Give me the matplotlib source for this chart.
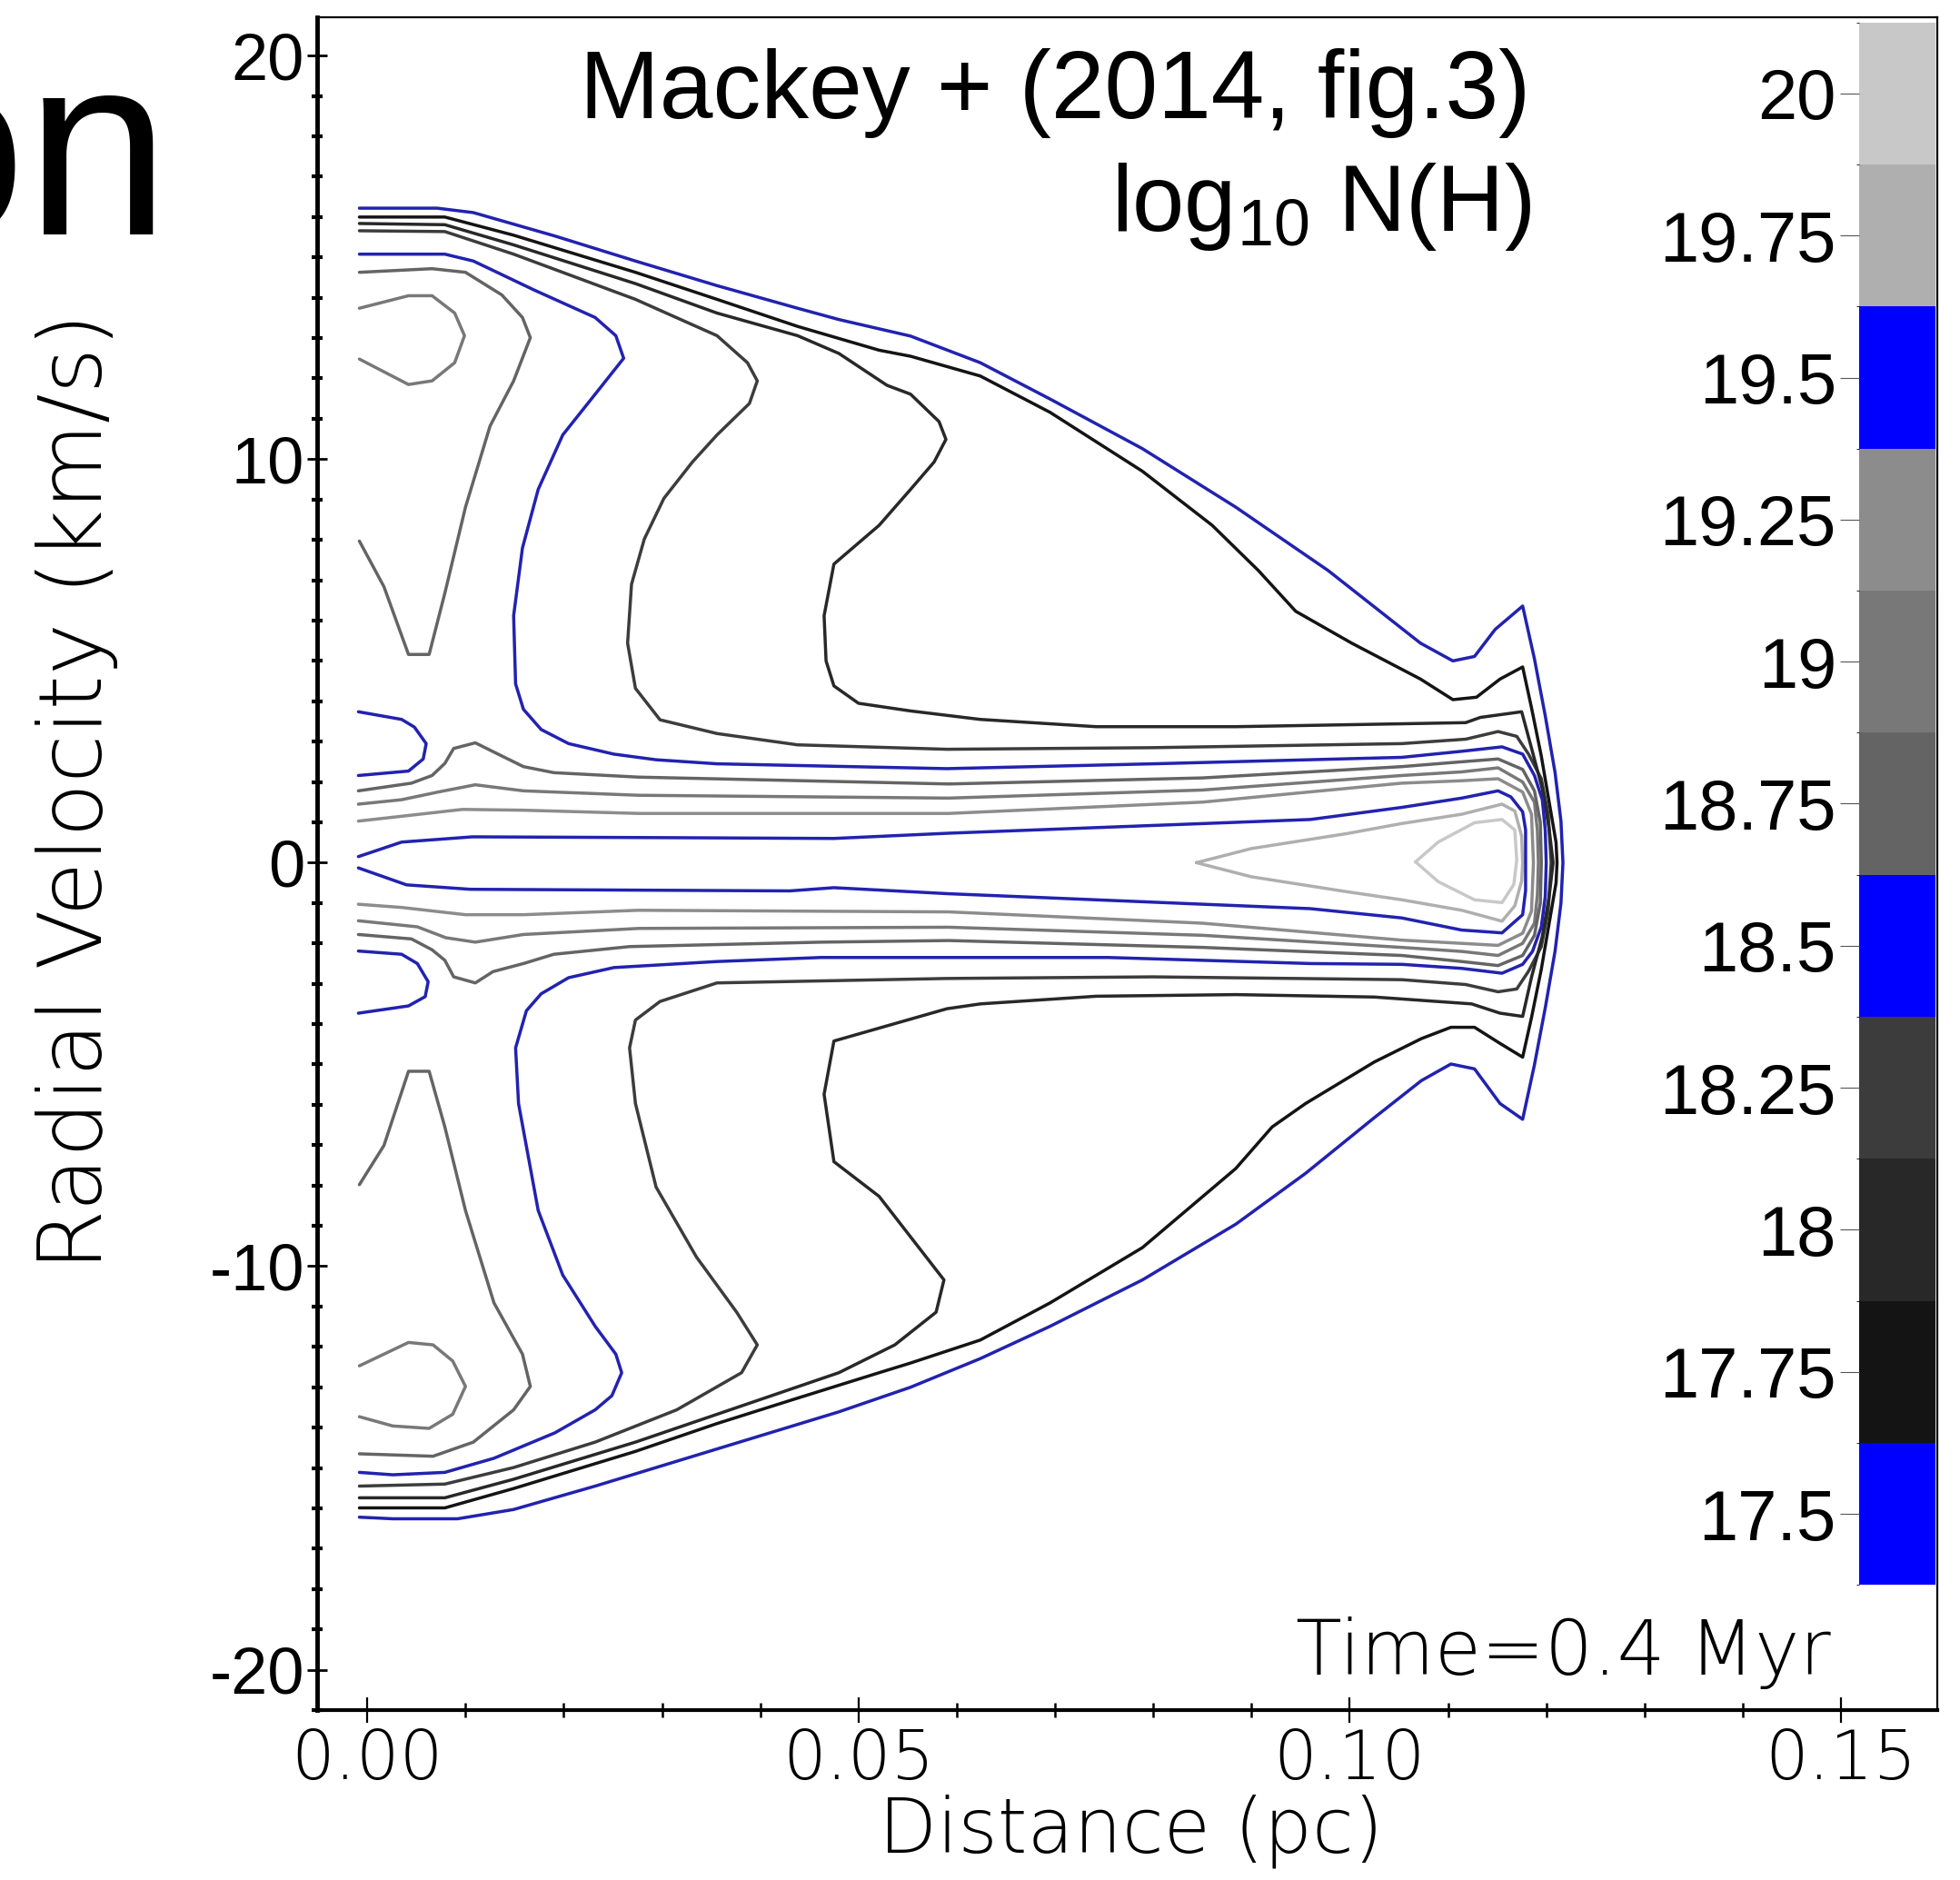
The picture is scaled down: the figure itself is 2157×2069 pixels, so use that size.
import numpy as np
import matplotlib
matplotlib.use("Agg")
import matplotlib.pyplot as plt
from matplotlib.colors import ListedColormap, BoundaryNorm
from matplotlib.cm import ScalarMappable
from matplotlib.ticker import MultipleLocator, FormatStrFormatter, FuncFormatter

plt.rcParams["axes.unicode_minus"] = False
plt.rcParams["mathtext.default"] = "regular"

# log10 N(H) contour levels and their colours
levels = [17.5, 17.75, 18.0, 18.25, 18.5, 18.75, 19.0, 19.25, 19.5, 19.75, 20.0]
level_colors = ["#0000ff", "#141414", "#282828", "#3c3c3c", "#0000ff", "#646464",
                "#787878", "#8c8c8c", "#0000ff", "#afafaf", "#c8c8c8"]
cbar_labels = ["17.5", "17.75", "18", "18.25", "18.5", "18.75", "19", "19.25", "19.5", "19.75", "20"]

# contour paths: (distance [pc], radial velocity [km/s])
c1750_outer = [(-0.0008, 16.22), (0.0071, 16.22), (0.0108, 16.11), (0.0191, 15.53), (0.0273, 14.91),
               (0.0356, 14.30), (0.0438, 13.74), (0.0480, 13.46), (0.0553, 13.05), (0.0624, 12.39),
               (0.0695, 11.49), (0.0789, 10.26), (0.0884, 8.81), (0.0978, 7.24), (0.1025, 6.34),
               (0.1072, 5.44), (0.1105, 5.00), (0.1127, 5.11), (0.1148, 5.78), (0.1176, 6.36),
               (0.1188, 5.05), (0.1199, 3.64), (0.1209, 2.23), (0.1215, 1.03), (0.1217, 0.00),
               (0.1215, -1.00), (0.1209, -2.19), (0.1199, -3.60), (0.1188, -5.01), (0.1176, -6.36),
               (0.1153, -5.97), (0.1127, -5.11), (0.1103, -4.99), (0.1073, -5.40), (0.1025, -6.32),
               (0.0955, -7.70), (0.0884, -8.96), (0.0789, -10.34), (0.0695, -11.49), (0.0624, -12.29),
               (0.0553, -13.00), (0.0480, -13.61), (0.0356, -14.53), (0.0232, -15.45), (0.0149, -16.03),
               (0.0092, -16.26), (0.0026, -16.26), (-0.0008, -16.22)]

c1775_outer = [(-0.0008, 16.00), (0.0079, 16.00), (0.0149, 15.55), (0.0273, 14.63), (0.0356, 13.96),
               (0.0438, 13.29), (0.0521, 12.70), (0.0553, 12.55), (0.0624, 12.06), (0.0695, 11.16),
               (0.0789, 9.70), (0.0860, 8.36), (0.0907, 7.24), (0.0945, 6.23), (0.1002, 5.44),
               (0.1072, 4.55), (0.1105, 4.04), (0.1129, 4.10), (0.1153, 4.55), (0.1176, 4.85),
               (0.1185, 3.84), (0.1195, 2.64), (0.1203, 1.50), (0.1210, 0.50), (0.1211, 0.00),
               (0.1210, -0.50), (0.1203, -1.50), (0.1195, -2.64), (0.1185, -3.84), (0.1176, -4.82),
               (0.1153, -4.48), (0.1127, -4.08), (0.1103, -4.08), (0.1073, -4.36), (0.1025, -4.94),
               (0.0955, -5.97), (0.0921, -6.55), (0.0884, -7.58), (0.0789, -9.54), (0.0695, -10.91),
               (0.0624, -11.83), (0.0553, -12.40), (0.0521, -12.64), (0.0438, -13.27), (0.0356, -13.90),
               (0.0273, -14.59), (0.0149, -15.51), (0.0079, -15.99), (-0.0008, -15.99)]

c1800_outer = [(-0.0008, 15.84), (0.0079, 15.81), (0.0149, 15.31), (0.0273, 14.35), (0.0356, 13.62),
               (0.0438, 13.06), (0.0480, 12.62), (0.0529, 11.83), (0.0553, 11.61), (0.0582, 10.93),
               (0.0589, 10.49), (0.0577, 9.93), (0.0553, 9.25), (0.0521, 8.36), (0.0475, 7.40),
               (0.0465, 6.12), (0.0467, 5.00), (0.0475, 4.38), (0.0500, 3.95), (0.0553, 3.76),
               (0.0624, 3.55), (0.0742, 3.37), (0.0884, 3.37), (0.1025, 3.43), (0.1118, 3.47),
               (0.1133, 3.60), (0.1175, 3.74), (0.1185, 2.84), (0.1196, 1.83), (0.1203, 0.83),
               (0.1207, 0.00), (0.1203, -0.83), (0.1196, -1.83), (0.1185, -2.84), (0.1176, -3.81),
               (0.1153, -3.73), (0.1124, -3.50), (0.1025, -3.33), (0.0884, -3.27), (0.0742, -3.31),
               (0.0624, -3.50), (0.0590, -3.62), (0.0475, -4.42), (0.0465, -5.74), (0.0475, -7.41),
               (0.0521, -8.27), (0.0587, -10.34), (0.0579, -11.14), (0.0537, -11.95), (0.0480, -12.64),
               (0.0397, -13.33), (0.0273, -14.36), (0.0149, -15.28), (0.0079, -15.74), (-0.0008, -15.74)]

c1825_outer = [(-0.0008, 15.66), (0.0079, 15.64), (0.0149, 15.08), (0.0273, 13.96), (0.0356, 13.06),
               (0.0387, 12.39), (0.0397, 11.94), (0.0389, 11.38), (0.0356, 10.60), (0.0331, 9.93),
               (0.0302, 9.03), (0.0282, 8.02), (0.0269, 6.90), (0.0265, 5.44), (0.0273, 4.32),
               (0.0298, 3.54), (0.0356, 3.20), (0.0438, 2.92), (0.0590, 2.81), (0.0800, 2.85),
               (0.1053, 2.95), (0.1118, 3.06), (0.1151, 3.25), (0.1170, 3.13), (0.1182, 2.69),
               (0.1195, 2.08), (0.1202, 1.20), (0.1205, 0.00), (0.1202, -1.20), (0.1195, -2.08),
               (0.1182, -2.69), (0.1170, -3.13), (0.1151, -3.20), (0.1118, -3.02), (0.1053, -2.90),
               (0.0800, -2.83), (0.0590, -2.87), (0.0356, -2.98), (0.0298, -3.44), (0.0273, -3.90),
               (0.0267, -4.59), (0.0273, -5.97), (0.0294, -8.04), (0.0335, -9.77), (0.0376, -11.14),
               (0.0397, -11.95), (0.0381, -12.64), (0.0315, -13.56), (0.0232, -14.36), (0.0149, -14.99),
               (0.0079, -15.40), (-0.0008, -15.45)]

c1850_main = [(-0.0008, 15.08), (0.0079, 15.08), (0.0108, 14.91), (0.0170, 14.19), (0.0232, 13.51),
              (0.0253, 13.06), (0.0261, 12.50), (0.0232, 11.61), (0.0199, 10.60), (0.0174, 9.25),
              (0.0158, 7.80), (0.0149, 6.12), (0.0151, 4.43), (0.0159, 3.80), (0.0177, 3.30),
              (0.0205, 2.95), (0.0251, 2.69), (0.0294, 2.55), (0.0356, 2.45), (0.0590, 2.33),
              (0.0800, 2.45), (0.1053, 2.61), (0.1114, 2.76), (0.1155, 2.87), (0.1176, 2.69),
              (0.1188, 2.16), (0.1196, 1.56), (0.1199, 0.81), (0.1200, 0.00), (0.1199, -0.84),
              (0.1195, -1.59), (0.1186, -2.20), (0.1176, -2.52), (0.1155, -2.74), (0.1114, -2.62),
              (0.1053, -2.52), (0.0960, -2.50), (0.0754, -2.35), (0.0462, -2.35), (0.0356, -2.45),
              (0.0251, -2.60), (0.0205, -2.85), (0.0177, -3.25), (0.0162, -3.67), (0.0151, -4.59),
              (0.0154, -5.97), (0.0174, -8.62), (0.0199, -10.22), (0.0232, -11.49), (0.0253, -12.18),
              (0.0259, -12.64), (0.0249, -13.21), (0.0232, -13.56), (0.0191, -14.13), (0.0129, -14.76),
              (0.0079, -15.11), (0.0026, -15.17), (-0.0008, -15.11)]
c1850_lobe_up = [(-0.0009, 3.74), (0.0035, 3.55), (0.0048, 3.36), (0.0060, 2.95), (0.0057, 2.57),
                 (0.0042, 2.27), (-0.0009, 2.16)]
c1850_lobe_dn = [(-0.0009, -2.19), (0.0035, -2.27), (0.0051, -2.50), (0.0062, -2.95), (0.0059, -3.32),
                 (0.0042, -3.55), (-0.0009, -3.73)]

c1875_v_up = [(-0.0008, 14.63), (0.0066, 14.72), (0.0100, 14.63), (0.0137, 14.07), (0.0158, 13.51),
              (0.0166, 13.01), (0.0149, 11.94), (0.0125, 10.82), (0.0100, 8.81), (0.0079, 6.68),
              (0.0063, 5.16), (0.0042, 5.16), (0.0017, 6.84), (-0.0008, 7.97)]
c1875_v_dn = [(-0.0008, -7.98), (0.0017, -7.01), (0.0042, -5.17), (0.0063, -5.17), (0.0079, -6.55),
              (0.0100, -8.62), (0.0129, -10.91), (0.0158, -12.18), (0.0166, -12.98), (0.0149, -13.56),
              (0.0108, -14.36), (0.0067, -14.71), (-0.0008, -14.65)]
c1875_band = [(-0.0009, 1.78), (0.0045, 1.97), (0.0066, 2.16), (0.0079, 2.46), (0.0088, 2.83),
              (0.0110, 2.97), (0.0134, 2.68), (0.0159, 2.38), (0.0190, 2.23), (0.0276, 2.12),
              (0.0592, 1.95), (0.0850, 2.10), (0.1053, 2.38), (0.1114, 2.50), (0.1151, 2.57),
              (0.1176, 2.31), (0.1188, 1.78), (0.1194, 1.00), (0.1195, 0.00), (0.1194, -1.00),
              (0.1188, -1.80), (0.1176, -2.30), (0.1151, -2.55), (0.1114, -2.45), (0.1053, -2.30),
              (0.0850, -2.10), (0.0592, -1.93), (0.0462, -1.97), (0.0267, -2.08), (0.0190, -2.27),
              (0.0159, -2.50), (0.0128, -2.70), (0.0110, -2.98), (0.0088, -2.83), (0.0079, -2.42),
              (0.0066, -2.16), (0.0045, -1.89), (-0.0009, -1.78)]

c1900_loop_up = [(-0.0008, 13.74), (0.0042, 14.05), (0.0066, 14.05), (0.0089, 13.62), (0.0099, 13.06),
                 (0.0089, 12.39), (0.0066, 11.94), (0.0042, 11.85), (-0.0008, 12.48)]
c1900_loop_dn = [(-0.0008, -12.47), (0.0042, -11.89), (0.0067, -11.95), (0.0087, -12.35), (0.0100, -12.98),
                 (0.0087, -13.67), (0.0063, -14.02), (0.0026, -13.96), (-0.0008, -13.73)]
c1900_band = [(-0.0009, 1.45), (0.0035, 1.56), (0.0072, 1.75), (0.0110, 1.93), (0.0159, 1.78),
              (0.0276, 1.67), (0.0592, 1.60), (0.0850, 1.80), (0.1053, 2.16), (0.1114, 2.25),
              (0.1151, 2.35), (0.1176, 2.00), (0.1188, 1.50), (0.1191, 0.80), (0.1192, 0.00),
              (0.1191, -0.80), (0.1188, -1.50), (0.1176, -2.00), (0.1151, -2.30), (0.1114, -2.20),
              (0.1053, -2.10), (0.0850, -1.80), (0.0592, -1.60), (0.0276, -1.63), (0.0159, -1.78),
              (0.0110, -1.97), (0.0080, -1.86), (0.0051, -1.59), (-0.0009, -1.44)]

c1925_band = [(-0.0009, 1.03), (0.0035, 1.15), (0.0097, 1.32), (0.0159, 1.30), (0.0276, 1.22),
              (0.0592, 1.22), (0.0850, 1.50), (0.1053, 1.97), (0.1114, 2.03), (0.1151, 2.08),
              (0.1176, 1.75), (0.1185, 1.20), (0.1187, 0.00), (0.1185, -1.20), (0.1176, -1.75),
              (0.1151, -2.05), (0.1114, -2.00), (0.1053, -1.92), (0.0850, -1.50), (0.0592, -1.22),
              (0.0276, -1.18), (0.0159, -1.29), (0.0100, -1.29), (0.0035, -1.11), (-0.0009, -1.03)]

c1950_core = [(-0.0009, 0.15), (0.0035, 0.51), (0.0107, 0.64), (0.0300, 0.62), (0.0475, 0.60),
              (0.0592, 0.73), (0.0960, 1.07), (0.1053, 1.37), (0.1114, 1.60), (0.1151, 1.78),
              (0.1164, 1.63), (0.1176, 1.26), (0.1179, 0.81), (0.1179, -0.69), (0.1176, -1.29),
              (0.1155, -1.74), (0.1114, -1.67), (0.1053, -1.37), (0.0960, -1.14), (0.0592, -0.77),
              (0.0475, -0.62), (0.0430, -0.70), (0.0105, -0.66), (0.0040, -0.55), (-0.0009, -0.13)]

c1975_loop = [(0.0844, 0.00), (0.0900, 0.35), (0.0997, 0.72), (0.1053, 0.97), (0.1114, 1.20),
              (0.1155, 1.45), (0.1168, 1.28), (0.1175, 0.66), (0.1176, 0.00), (0.1175, -0.45),
              (0.1168, -1.07), (0.1155, -1.45), (0.1114, -1.18), (0.1053, -0.92), (0.0997, -0.72),
              (0.0900, -0.35), (0.0844, 0.00)]

c2000_loop = [(0.1067, 0.02), (0.1090, 0.51), (0.1127, 0.99), (0.1155, 1.07), (0.1168, 0.81),
              (0.1170, 0.06), (0.1167, -0.54), (0.1155, -0.99), (0.1127, -0.92), (0.1090, -0.47),
              (0.1067, 0.02)]

contours = [
    (20.0, c2000_loop), (19.75, c1975_loop),
    (19.25, c1925_band), (19.0, c1900_band), (19.0, c1900_loop_up), (19.0, c1900_loop_dn),
    (18.75, c1875_band), (18.75, c1875_v_up), (18.75, c1875_v_dn),
    (18.25, c1825_outer), (18.0, c1800_outer), (17.75, c1775_outer),
    (19.5, c1950_core), (18.5, c1850_main), (18.5, c1850_lobe_up), (18.5, c1850_lobe_dn),
    (17.5, c1750_outer),
]

line_colour = {lv: ("#2222b0" if c == "#0000ff" else c) for lv, c in zip(levels, level_colors)}

fig = plt.figure(figsize=(21.57, 20.69), dpi=100)
ax = fig.add_axes([0.1618, 0.0904, 0.8266, 0.9004])

for lv, path in contours:
    xy = np.array(path)
    ax.plot(xy[:, 0], xy[:, 1], color=line_colour[lv], lw=2.5,
            solid_joinstyle="round", solid_capstyle="round")

ax.set_xlim(-0.0051, 0.1598)
ax.set_ylim(-21.0, 20.95)
ax.xaxis.set_major_locator(MultipleLocator(0.05))
ax.xaxis.set_minor_locator(MultipleLocator(0.01))
ax.yaxis.set_major_locator(MultipleLocator(10))
ax.yaxis.set_minor_locator(MultipleLocator(1))
ax.xaxis.set_major_formatter(FormatStrFormatter("%.2f"))
ax.yaxis.set_major_formatter(FuncFormatter(lambda v, p: f"{v:.0f}"))

ax.spines["left"].set_linewidth(3.5)
ax.spines["bottom"].set_linewidth(3.0)
ax.spines["top"].set_linewidth(1.6)
ax.spines["right"].set_linewidth(1.6)

ax.tick_params(axis="y", which="major", direction="inout", length=16, width=2.0, pad=2)
ax.tick_params(axis="y", which="minor", direction="inout", length=8, width=3.0)
ax.tick_params(axis="x", which="major", direction="inout", length=20, width=1.6, pad=4)
ax.tick_params(axis="x", which="minor", direction="inout", length=11, width=1.8)

for lab in ax.get_yticklabels():
    lab.set_fontfamily("Liberation Sans")
    lab.set_fontsize(52)
for lab in ax.get_xticklabels():
    lab.set_fontfamily("DejaVu Sans")
    lab.set_fontweight("light")
    lab.set_fontsize(54)

# colour bar inside the frame on the right
cax = fig.add_axes([0.9485, 0.157, 0.0390, 0.831])
bounds = [lv - 0.125 for lv in levels] + [levels[-1] + 0.125]
norm = BoundaryNorm(bounds, len(levels))
cb = fig.colorbar(ScalarMappable(norm=norm, cmap=ListedColormap(level_colors)), cax=cax, ticks=levels)
cb.outline.set_visible(False)
cax.yaxis.set_ticks_position("left")
cax.set_yticklabels(cbar_labels)
cax.tick_params(axis="y", direction="out", length=15, width=0.8, color="#555555", pad=3)
for lab in cax.get_yticklabels():
    lab.set_fontfamily("Liberation Sans")
    lab.set_fontsize(56)

fig.text(0.781, 0.937, "Mackey + (2014, fig.3)", ha="right", va="baseline",
         fontsize=76, family="Liberation Sans")
fig.text(0.781, 0.877, r"log$_{\mathregular{10}}$ N(H)", ha="right", va="baseline",
         fontsize=74, family="Liberation Sans")
fig.text(0.934, 0.109, "Time=0.4 Myr", ha="right", va="baseline", fontsize=60,
         family="DejaVu Sans", fontweight="light")

fig.text(0.0395, 0.579, "Radial Velocity (km/s)", rotation=90, ha="center", va="center",
         fontsize=70, family="DejaVu Sans", fontweight="light")
fig.text(0.577, 0.026, "Distance (pc)", ha="center", va="center", fontsize=60,
         family="DejaVu Sans", fontweight="light")

fig.text(0.0867, 0.8753, "on", ha="right", va="baseline", fontsize=205, family="Liberation Sans")

fig.savefig("out.png", dpi=100)
